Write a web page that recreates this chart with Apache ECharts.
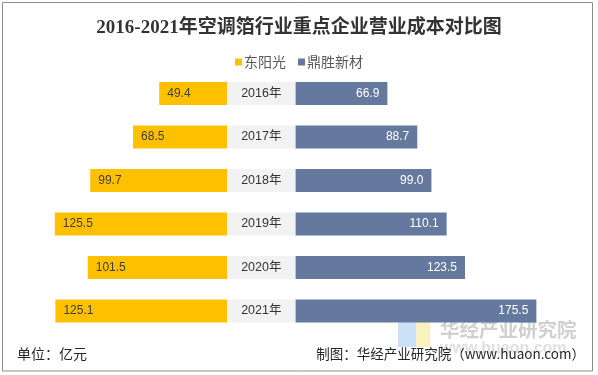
<!DOCTYPE html>
<html>
<head>
<meta charset="utf-8">
<script src="https://cdn.jsdelivr.net/npm/echarts@6/dist/echarts.min.js"></script>
<style>
html,body{margin:0;padding:0;background:#fff;}
#c{width:598px;height:375px;}
</style>
</head>
<body>
<div id="c"></div>
<script>
var categories = ['2016年', '2017年', '2018年', '2019年', '2020年', '2021年'];
var dongyangguang = [49.4, 68.5, 99.7, 125.5, 101.5, 125.1];
var dingsheng = [66.9, 88.7, 99.0, 110.1, 123.5, 175.5];
var seriesNames = ['东阳光', '鼎胜新材'];
var spacerWidth = 50;

var chart = echarts.init(document.getElementById('c'), null, {renderer: 'canvas'});
var FONT = "'Liberation Sans', Arial, 'Noto Sans CJK SC', sans-serif";
var CJK = "'Noto Sans CJK SC', sans-serif";
var ORANGE = '#FFC000', BLUE = '#65799E', GRAY = '#F2F2F2';

chart.setOption({
  animation: false,
  backgroundColor: '#ffffff',
  title: {
    text: '2016-2021年空调箔行业重点企业营业成本对比图',
    left: 'center',
    top: 14,
    textStyle: {
      fontFamily: "'Liberation Serif', 'Noto Sans CJK SC', serif",
      fontWeight: 'bold',
      fontSize: 19,
      color: '#333333'
    }
  },
  legend: {
    data: seriesNames,
    left: 'center',
    top: 50,
    itemWidth: 7,
    itemHeight: 7,
    itemGap: 12,
    icon: 'rect',
    textStyle: {fontFamily: CJK, fontSize: 14, color: '#595959', padding: [0, 0, 0, -3]}
  },
  grid: {left: 7.5, right: 14.3, top: 71.75, bottom: 42.25, containLabel: false},
  xAxis: {
    type: 'value', min: -160, max: 260,
    show: false
  },
  yAxis: {
    type: 'category', data: categories, inverse: true, show: false
  },
  series: [
    {
      name: seriesNames[0], type: 'bar', stack: 'all', barWidth: 23,
      itemStyle: {color: ORANGE},
      data: dongyangguang.map(function (v) { return -v; }),
      label: {
        show: true, position: 'insideLeft', distance: 8,
        fontFamily: FONT, fontSize: 12, color: '#3F3F3F',
        formatter: function (p) { return Math.abs(p.value).toFixed(1); }
      }
    },
    {
      name: 'spacer', type: 'bar', stack: 'all', barWidth: 23,
      itemStyle: {color: GRAY},
      data: categories.map(function () { return spacerWidth; }),
      label: {
        show: true, position: 'inside',
        fontFamily: FONT, fontSize: 12.5, color: '#333333',
        formatter: function (p) { return p.name; }
      },
      silent: true
    },
    {
      name: seriesNames[1], type: 'bar', stack: 'all', barWidth: 23,
      itemStyle: {color: BLUE},
      data: dingsheng,
      label: {
        show: true, position: 'insideRight', distance: 8,
        fontFamily: FONT, fontSize: 12, color: '#FFFFFF',
        formatter: function (p) { return p.value.toFixed(1); }
      }
    }
  ],
  graphic: [
    {type: 'rect', shape: {x: 2.5, y: 2.5, width: 590, height: 368.5},
     style: {fill: 'none', stroke: '#8C8C8C', lineWidth: 1}, z: 100},
    {type: 'rect', shape: {x: 398, y: 322, width: 18, height: 25}, style: {fill: '#BFD8F5', opacity: 0.8}, z: -1},
    {type: 'rect', shape: {x: 416, y: 322, width: 14, height: 25}, style: {fill: '#F7EDB0', opacity: 0.8}, z: -1},
    {type: 'text', left: 440, top: 320,
     style: {text: '华经产业研究院', font: "bold 19.5px 'Noto Sans CJK SC'", fill: '#D0D0D0'}, z: -1},
    {type: 'text', left: 440, top: 341,
     style: {text: 'www.huaon.com', font: "bold 16px 'Liberation Sans'", fill: '#E0E0E0'}, z: -1},
    {type: 'text', left: 17, top: 347,
     style: {text: '单位：亿元', font: "14px 'Noto Sans CJK SC'", fill: '#262626'}},
    {type: 'text', right: 13, top: 347.5,
     style: {text: '制图：华经产业研究院（www.huaon.com）', font: "13.5px 'Noto Sans CJK SC'", fill: '#262626'}}
  ]
});
</script>
</body>
</html>
